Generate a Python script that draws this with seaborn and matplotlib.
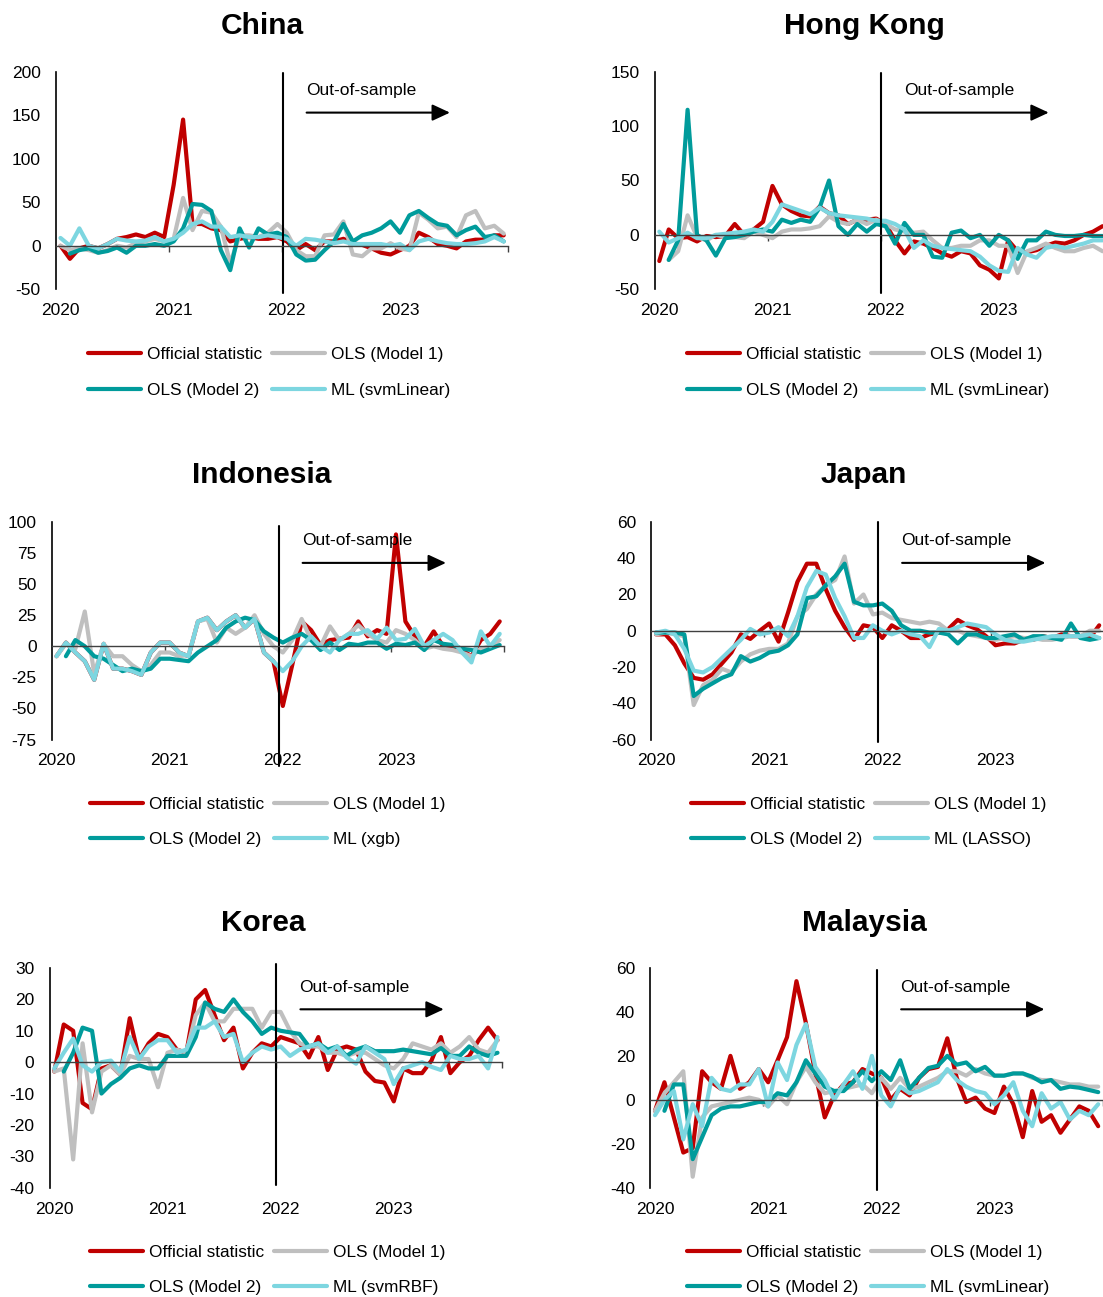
import numpy as np
import pandas as pd
import matplotlib
matplotlib.use("Agg")
import matplotlib.pyplot as plt
from matplotlib.lines import Line2D
import seaborn as sns

nan = np.nan

# Monthly index, Jan 2020 .. Dec 2023
months = np.arange(48)
year_labels = ["2020", "2021", "2022", "2023"]
series_names = ["Official statistic", "OLS (Model 1)", "OLS (Model 2)"]

countries = ["China", "Hong Kong", "Indonesia", "Japan", "Korea", "Malaysia"]
ml_names = ["ML (svmLinear)", "ML (svmLinear)", "ML (xgb)", "ML (LASSO)", "ML (svmRBF)", "ML (svmLinear)"]

china_official = [0, -15, -3, 0, -3, 2, 8, 10, 13, 10, 15, 10, 70, 145, 25, 25, 20, 18, 5, 8,
                  10, 8, 8, 10, 5, -5, 2, -5, 5, 5, 8, 3, 1, -3, -8, -10, -5, 0, 15, 10,
                  2, 0, -3, 5, 7, 7, 12, 12]
china_ols1 = [0, -5, -3, -5, -8, -5, 0, -2, 3, 5, 8, 5, 8, 55, 18, 40, 38, 22, -20, 12,
              12, 10, 15, 25, 15, -5, -12, -12, 12, 13, 28, -10, -12, -3, -3, 3, -3, -5, 38, 30,
              20, 22, 10, 35, 40, 20, 23, 14]
china_ols2 = [nan, -9, -5, -3, -8, -6, -2, -8, 0, 0, 2, 0, 5, 20, 48, 47, 40, -5, -28, 20,
              -2, 20, 13, 15, 10, -10, -17, -16, -5, 5, 25, 5, 12, 15, 20, 28, 15, 35, 40, 32,
              25, 23, 12, 18, 22, 10, 12, 5]
china_ml = [9, 0, 20, 0, -3, 2, 8, 6, 5, 6, 10, 5, 8, 15, 25, 28, 22, 22, 10, 12,
            10, 10, 12, 10, 8, 0, 8, 7, 5, 3, 5, 2, 2, 2, 2, 0, 2, -5, 5, 8,
            5, 3, 2, 2, 3, 5, 10, 5]

hk_official = [-24, 5, -3, -2, -6, -1, -2, -1, 10, 0, 5, 12, 45, 28, 22, 18, 17, 26, 20, 18,
               10, 14, 14, 15, 10, -5, -17, -6, -8, -12, -17, -20, -15, -17, -28, -32, -40, -5, -15, -16,
               -14, -10, -7, -8, -5, 0, 3, 8]
hk_ols1 = [nan, -23, -15, 18, -2, -5, 0, -2, -2, -3, 3, 0, -3, 3, 5, 5, 6, 8, 17, 12,
           10, 14, 10, 14, 10, 5, 3, 2, 3, -5, -12, -12, -10, -10, -5, -5, -10, -10, -35, -15,
           -12, -8, -12, -15, -15, -12, -10, -15]
hk_ols2 = [nan, -23, -5, 115, 0, -5, -19, -3, -2, 0, 3, 5, 3, 14, 11, 14, 12, 25, 50, 8,
           0, 10, 3, 10, 8, -8, 11, 0, 0, -20, -21, 2, 4, -3, 0, -10, 0, -5, -22, -5,
           -5, 3, 0, -1, -1, 0, -1, -1]
hk_ml = [3, -7, -3, 2, -3, -3, 0, 1, 2, 3, 5, 3, 12, 28, 25, 22, 19, 25, 20, 18,
         17, 16, 15, 13, 13, 10, 5, -12, -5, -10, -12, -13, -14, -15, -20, -28, -33, -34, -12, -18,
         -21, -12, -10, -12, -10, -8, -5, -5]

indo_ml = [-8, 3, -5, -12, -27, 2, -18, -18, -20, -23, -5, 3, 3, -5, -8, 20, 23, 13, 20, 25,
           15, 22, -5, -12, -20, -12, 0, 8, 0, -5, 5, 10, 10, 13, 6, 15, 5, 6, 14, 0,
           5, 10, 5, -5, -13, 12, 0, 10]
indo_official = [-8, 3, -5, -12, -27, 2, -18, -18, -20, -23, -5, 3, 3, -5, -8, 20, 23, 13, 20, 25,
                 15, 22, -5, -12, -48, -15, 20, 13, 1, 5, 6, 7, 20, 8, 13, 10, 90, 20, 8, 0,
                 12, 0, -1, -3, -8, 5, 10, 20]
indo_ols1 = [-8, 2, -2, 28, -22, 2, -8, -8, -15, -20, -15, -5, -5, -8, -7, 20, 22, 3, 15, 10,
             15, 25, 10, 0, -5, 5, 22, 5, 0, 16, 5, 10, 17, 10, 5, 3, 13, 10, 5, -2,
             0, -2, -3, -5, -8, -2, 0, 5]
indo_ols2 = [nan, -8, 5, 0, -8, -10, -15, -20, -18, -20, -18, -10, -10, -11, -12, -5, 0, 5, 15, 20,
             23, 21, 12, 7, 3, 7, 10, 5, -3, 3, -3, 2, 1, 3, 3, -2, 2, 1, 3, -3,
             5, 2, 1, -2, -3, -5, -2, 1]

japan_official = [-2, -2, -8, -18, -26, -27, -24, -18, -12, -2, -4.5, 0, 4, -6, 10, 27, 37, 37, 23, 11,
                  2, -5, 3, 2, -4, 3, 0, -4, -4, -2, -1, 1, 6, 3, 1, -3, -8, -7, -7, -5,
                  -5, -3, -4, -2, -3, -3, -4, 3]
japan_ols1 = [-2, -1, -2, -3, -41, -30, -27, -21, -23, -17, -13, -11, -10, -10, -7, 8, 12, 20, 25, 28,
              41, 15, 20, 9, 10, 7, 6, 5, 4, 5, 4, 0, 0, -2, -3, -4, -5, -4, -3, -4,
              -4, -5, -5, -4, -3, -3, 0, 0]
japan_ols2 = [-1, -1, -1, -2, -36, -32, -29, -26, -24, -14, -17, -15, -12, -11, -8, -2, 18, 19, 25, 30,
              37, 16, 14, 14, 15, 11, 3, 0, 0, -1, -1, -2, -7, -2, -2, -4, -4, -3, -2, -5,
              -3, -3, -4, -5, 4, -4, -5, -4]
japan_ml = [-1, 0, -2, -10, -22, -23, -20, -15, -10, -5, 1, -2, -1, 2, -3, 8, 24, 33, 31, 18,
            8, -4, -4, 3, 0, -2, 0, -2, -3, -9, 1, 0, 2, 4, 3, 2, -2, -5, -6, -6,
            -5, -4, -3, -3, -3, -3, -2, -4]

korea_official = [-3, 12, 10, -13, -15, -2, -1, -4, 14, 1, 6, 9, 8, 4, 3, 20, 23, 15, 7, 11,
                  -2, 3, 6, 5, 8, 7, 6, 1.5, 8, -2.5, 4, 5, 4, -3, -6, -6.5, -12.5, -2, -3.5, -3.5,
                  0.5, 8, -3.5, 0, 2, 7, 11, 7]
korea_ols1 = [-3, -2, -31, 6, -16, -3, -1, -4, 2, 1, 1, -8, 3, 4, 3, 15, 19, 13, 13, 17,
              17, 17, 11, 16, 16, 10, 6, 5, 5, 3, 3, 2, 3, 3, 1, -1, -2, 1, 6, 5,
              4, 6, 3, 5, 8, 4, 3, 7]
korea_ols2 = [nan, -3, 3, 11, 10, -10, -7, -5, -2, -1, -2, -2, 2, 2, 2, 8, 19, 17, 16, 20,
              16, 13, 9, 11, 10, 9.5, 9, 5, 6, 4, 5, 2, 4, 5, 3.5, 3.5, 3.5, 4, 3.5, 3,
              2.5, 4.5, 2, 2, 5, 3, 2, 3]
korea_ml = [-2, 3, 7.5, -1, -3, 0, 0.5, -3, 8, 1, 5, 7, 7, 3, 4, 11, 11, 13, 8, 9,
            0, 3, 5, 4, 5, 2, 4, 5, 6, 3, 5, 1.5, -0.5, 5, 3, 1, -7, -2, -1, 0,
            -1.5, -2.5, 2, 1, 1, 2, -2, 8]

malaysia_official = [-5, 8, -8, -24, -22, 13, 8, 5, 20, 5, 8, 14, 8, 18, 28.5, 54, 35, 12, -8, 2,
                     7, 8, 14, 12, 10, 0, 5, 2, 10, 14, 15, 28, 10, -1, 1, -4, -6, 6, -2, -17,
                     4, -10, -7, -15, -9, -3, -5, -12]
malaysia_ols1 = [-5, 3, 8, 13, -35, -8, -3, -2, -1, 0, 1, 0, -3, 2, -2, 8, 15, 8, 3, 4,
                 5, 6, 7, 3, 10, 5, 10, 5, 6, 8, 10, 13, 13, 11, 14, 12, 11, 11, 12, 12,
                 10, 9, 9, 8, 7, 7, 6, 6]
malaysia_ols2 = [nan, -5, 7, 7, -27, -17, -7, -4, -3, -3, -2, -1, -1, 3, 2, 8, 18, 12, 6, 4,
                 4, 8, 13, 8.5, 13, 9, 18, 5, 10, 14.5, 15.5, 20, 16, 17, 13, 15, 11, 11, 12, 12,
                 10.5, 8, 9, 5, 6, 5.5, 4.5, 3.5]
malaysia_ml = [-7, 0, 4, -18, -2, -12, 10, 5, 4, 7, 7, 14, -3, 17, 9, 25, 34.5, 15, 9, 0,
               7, 13, 5, 20, 2, -3, 6, 3, 4, 6, 8, 14, 9, 6, 4, 3, -2, 2, 8, -5,
               -12, 3, -4, -1, -9, -5, -7, -2]

panel_data = [
    (china_official, china_ols1, china_ols2, china_ml),
    (hk_official, hk_ols1, hk_ols2, hk_ml),
    (indo_official, indo_ols1, indo_ols2, indo_ml),
    (japan_official, japan_ols1, japan_ols2, japan_ml),
    (korea_official, korea_ols1, korea_ols2, korea_ml),
    (malaysia_official, malaysia_ols1, malaysia_ols2, malaysia_ml),
]
y_ticks = [
    np.arange(-50, 201, 50),
    np.arange(-50, 151, 50),
    np.arange(-75, 101, 25),
    np.arange(-60, 61, 20),
    np.arange(-40, 31, 10),
    np.arange(-40, 61, 20),
]

colors = ["#C00000", "#BFBFBF", "#009B9B", "#7DD6E0"]

# layout in pixels
W, H = 1103, 1297
PX_MONTH = 9.43
first_x = [60.5, 659.3, 56.5, 656, 54.3, 655]
tops = [71.7, 71.7, 522, 522, 968, 968]
bottoms = [289.3, 289.3, 739.5, 739.5, 1187.7, 1187.7]
title_pos = [(262, 26), (864, 26), (262, 475), (864, 475), (263, 923), (864, 923)]
legend_pos = [(88, 372.5), (687, 372.5), (90, 822), (691, 822), (90, 1270), (687, 1270)]
vline_span = [(-0.018, 0.993), (-0.018, 0.993), (-0.12, 0.98), (-0.01, 1.0), (0.012, 1.02), (-0.01, 0.99)]

sns.set_theme(style="white")
plt.rcParams["font.family"] = ["Liberation Sans", "DejaVu Sans"]
plt.rcParams["axes.unicode_minus"] = False
plt.rcParams["text.color"] = "black"

fig = plt.figure(figsize=(W / 100, H / 100), dpi=100)

for k, country in enumerate(countries):
    left = first_x[k] - 0.5 * PX_MONTH
    width = 48 * PX_MONTH
    ax = fig.add_axes([left / W, 1 - bottoms[k] / H, width / W, (bottoms[k] - tops[k]) / H])

    names = series_names + [ml_names[k]]
    frames = []
    for name, vals in zip(names, panel_data[k]):
        frames.append(pd.DataFrame({"month": months, "value": vals, "series": name}))
    df = pd.concat(frames, ignore_index=True)

    sns.lineplot(data=df, x="month", y="value", hue="series", hue_order=names,
                 palette=colors, linewidth=3, legend=False, estimator=None, ax=ax)

    yt = y_ticks[k]
    ax.set_ylim(yt[0], yt[-1])
    ax.set_yticks(yt)
    ax.set_xlim(-0.5, 47.5)
    ax.set_xlabel("")
    ax.set_ylabel("")

    # zero line carries the small year-boundary ticks
    ax.spines["bottom"].set_position(("data", 0))
    ax.spines["bottom"].set_color("#404040")
    ax.spines["bottom"].set_linewidth(1)
    ax.spines["top"].set_visible(False)
    ax.spines["right"].set_visible(False)
    ax.spines["left"].set_color("black")
    ax.spines["left"].set_linewidth(1.2)
    ax.set_xticks([11.5, 23.5, 35.5, 47.5])
    ax.tick_params(axis="x", bottom=True, length=4, width=1, color="#404040", labelbottom=False)
    ax.tick_params(axis="y", left=False, length=0, pad=11, labelsize=12.5, labelcolor="black")

    sec = ax.secondary_xaxis(0)
    sec.set_xticks([0, 12, 24, 36], labels=year_labels)
    sec.tick_params(length=0, pad=10, labelsize=12.5, labelcolor="black")
    sec.spines["bottom"].set_visible(False)

    ymin, ymax = vline_span[k]
    ax.axvline(23.55, ymin=ymin, ymax=ymax, color="black", lw=1.5, clip_on=False)

    xt = ax.get_xaxis_transform()
    ax.text(26.0, 0.913, "Out-of-sample", transform=xt, ha="left", va="center",
            fontsize=12.5, color="black")
    ax.annotate("", xy=(41.3, 0.812), xytext=(26.1, 0.812), xycoords=xt, textcoords=xt,
                arrowprops=dict(arrowstyle="-|>,head_length=0.43,head_width=0.2",
                                color="black", lw=1.5, mutation_scale=25,
                                shrinkA=0, shrinkB=0))

    tx, ty = title_pos[k]
    fig.text(tx / W, 1 - ty / H, country, ha="center", va="center",
             fontsize=21.5, fontweight="bold", color="black")

    handles = [Line2D([], [], color=c, lw=3) for c in colors]
    order = [0, 2, 1, 3]
    lx, ly = legend_pos[k]
    leg = ax.legend([handles[i] for i in order], [names[i] for i in order], ncol=2,
                    loc="center left", bbox_to_anchor=(lx / W, 1 - ly / H),
                    bbox_transform=fig.transFigure, frameon=False, fontsize=12.4,
                    handlelength=3.1, handletextpad=0.3, columnspacing=0.6,
                    labelspacing=1.2, borderpad=0, borderaxespad=0)
    for t in leg.get_texts():
        t.set_color("black")

fig.savefig("out.png", dpi=100)
